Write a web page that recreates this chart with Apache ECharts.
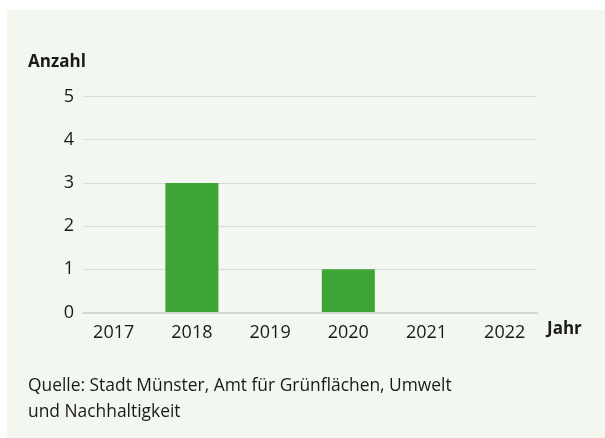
<!DOCTYPE html>
<html><head><meta charset="utf-8">
<script src="https://cdn.jsdelivr.net/npm/echarts@6/dist/echarts.min.js"></script>
<style>html,body{margin:0;padding:0;background:#fff}#c{width:605px;height:438px}</style>
</head><body><div id="c"></div>
<script>
const categories = ['2017','2018','2019','2020','2021','2022'];
const values = [0, 3, 0, 1, 0, 0];
const yTicks = [0, 1, 2, 3, 4, 5];
const yAxisTitle = 'Anzahl';
const xAxisTitle = 'Jahr';
const sourceLines = ['Quelle: Stadt Münster, Amt für Grünflächen, Umwelt', 'und Nachhaltigkeit'];

const FONT = '"Open Sans", sans-serif';
const TXT = '#1a1a1a';
const chart = echarts.init(document.getElementById('c'), null, {renderer:'canvas'});
const yMax = yTicks[yTicks.length-1];
chart.setOption({
  backgroundColor: '#ffffff',
  animation: false,
  graphic: [
    {type:'rect', z:-10, shape:{x:7,y:10,width:598,height:428}, style:{fill:'#f2f7ef'}},
    {type:'text', left:28, top:54, style:{text:yAxisTitle, font:'bold 17px '+FONT, fill:TXT}},
    {type:'text', left:547, top:321, style:{text:xAxisTitle, font:'bold 17px '+FONT, fill:TXT}},
    {type:'text', left:28, top:373, style:{text:sourceLines.join('\n'), font:'17.4px '+FONT, fill:TXT, lineHeight:26}}
  ],
  grid: [
    {left:83, right:68, top:96.5, bottom:125.5},
    {left:74.6, right:61.2, top:96.5, bottom:125.5}
  ],
  xAxis: [
    {type:'value', gridIndex:0, min:0, max:1, axisLabel:{show:false}, axisTick:{show:false}, splitLine:{show:false},
     axisLine:{show:true, onZero:false, lineStyle:{color:'#d3d6d1', width:2}}, z:5},
    {type:'category', gridIndex:1, data:categories, axisLine:{show:false}, axisTick:{show:false},
     axisLabel:{color:TXT, fontSize:18, fontFamily:FONT, margin:11}}
  ],
  yAxis: [
    {type:'value', gridIndex:0, min:0, max:yMax, interval:1, axisLine:{show:false}, axisTick:{show:false},
     axisLabel:{color:TXT, fontSize:18, fontFamily:FONT, margin:9},
     splitLine:{show:true, lineStyle:{color:'#d8dbd6', width:1}}},
    {type:'value', gridIndex:1, min:0, max:yMax, interval:1, show:false, splitLine:{show:false}}
  ],
  series: [
    {type:'bar', xAxisIndex:1, yAxisIndex:1, data:values, barWidth:53, itemStyle:{color:'#3da535'}, z:2}
  ]
});
</script></body></html>
